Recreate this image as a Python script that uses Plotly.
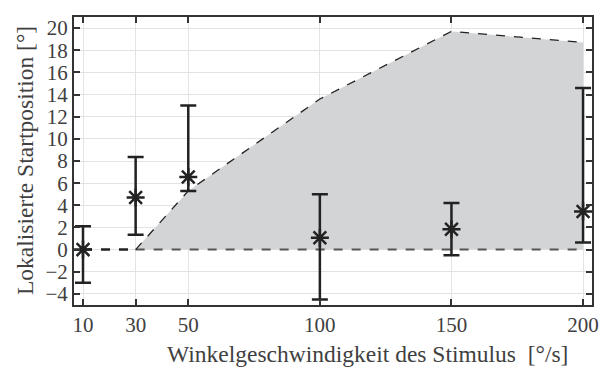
import plotly.graph_objects as go

speeds = [10, 30, 50, 100, 150, 200]
means = [0.0, 4.7, 6.55, 1.08, 1.83, 3.45]
upper = [2.1, 8.35, 13.0, 5.0, 4.2, 14.6]
lower = [-3.0, 1.35, 5.3, -4.5, -0.5, 0.65]

region_x = [30, 50, 100, 150, 200]
region_top = [0.0, 5.3, 13.6, 19.7, 18.7]
region_base = [0.0, 0.0, 0.0, 0.0, 0.0]

zero_x = [10, 30]
zero_y = [0.0, 0.0]

x_ticks = [10, 30, 50, 100, 150, 200]
x_ticktext = ["10", "30", "50", "100", "150", "200"]
y_ticks = list(range(-4, 21, 2))

x_title = "Winkelgeschwindigkeit des Stimulus  [°/s]"
y_title = "Lokalisierte Startposition [°]"

err_plus = [u - m for u, m in zip(upper, means)]
err_minus = [m - l for m, l in zip(means, lower)]

fig = go.Figure()
fig.add_trace(go.Scatter(x=region_x, y=region_base, mode="lines",
                         line=dict(color="#555555", width=2, dash="dash"),
                         showlegend=False, hoverinfo="skip"))
fig.add_trace(go.Scatter(x=region_x, y=region_top, mode="lines", fill="tonexty",
                         fillcolor="#d3d4d6",
                         line=dict(color="#222222", width=1.3, dash="dash"),
                         showlegend=False, hoverinfo="skip"))
fig.add_trace(go.Scatter(x=zero_x, y=zero_y, mode="lines",
                         line=dict(color="#222222", width=2.5, dash="dash"),
                         showlegend=False, hoverinfo="skip"))
fig.add_trace(go.Scatter(x=speeds, y=means, mode="markers",
                         marker=dict(symbol="asterisk-open", size=15, color="#222222",
                                     line=dict(color="#222222", width=2.5)),
                         error_y=dict(type="data", symmetric=False, array=err_plus,
                                      arrayminus=err_minus, color="#222222",
                                      thickness=2.5, width=8),
                         showlegend=False))

font_family = "Liberation Serif"
axis_common = dict(showgrid=True, gridcolor="#e3e3e3", gridwidth=1, zeroline=False,
                   showline=True, linecolor="#333333", linewidth=2, mirror="allticks",
                   ticks="inside", ticklen=6, tickcolor="#333333", tickwidth=1.5,
                   ticklabeloverflow="allow", automargin=False,
                   tickfont=dict(family=font_family, size=21, color="#404040"))
fig.update_layout(
    width=602, height=370,
    margin=dict(l=74, r=10, t=17, b=65, autoexpand=False),
    paper_bgcolor="white", plot_bgcolor="white",
    font=dict(family=font_family, color="#404040", size=21),
    xaxis=dict(range=[6.58, 203.4], tickvals=x_ticks, ticktext=x_ticktext, **axis_common),
    yaxis=dict(range=[-5.0, 21.0], tickvals=y_ticks, **axis_common),
)
fig.add_annotation(text=x_title, xref="paper", yref="paper",
                   x=(367 - 74) / (592 - 74), y=-(369 - 305) / (305 - 17),
                   xanchor="center", yanchor="bottom", showarrow=False,
                   font=dict(family=font_family, size=23.5, color="#404040"))
fig.add_annotation(text=y_title, xref="paper", yref="paper",
                   x=-(74 - 25) / (592 - 74), y=0.5, textangle=-90,
                   xanchor="center", yanchor="middle", showarrow=False,
                   font=dict(family=font_family, size=23.5, color="#404040"))

fig.write_html("out.html", config={"displayModeBar": False},
               post_script="document.body.style.margin='0px';document.body.style.overflow='hidden';")
